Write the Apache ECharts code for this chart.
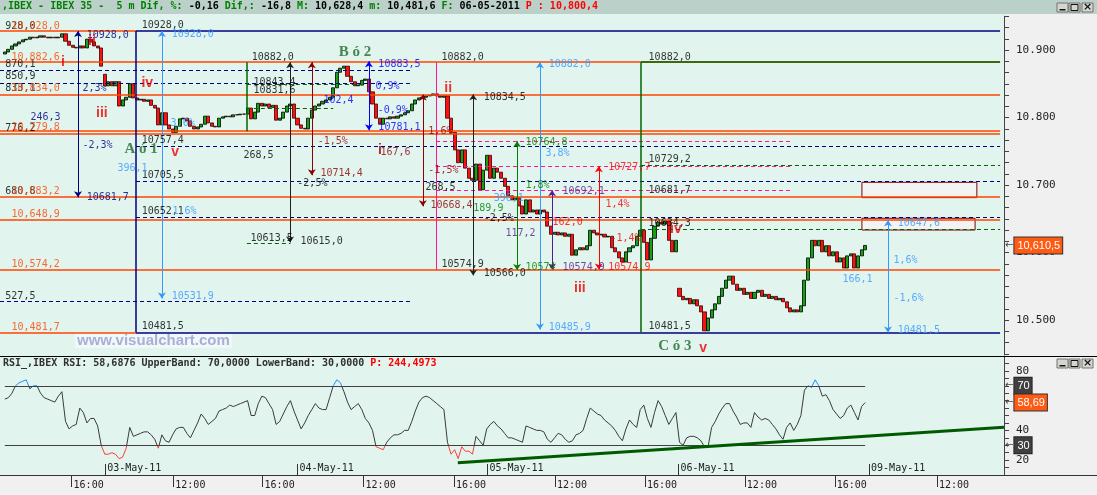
<!DOCTYPE html>
<html>
<head>
<meta charset="utf-8">
<script src="https://cdn.jsdelivr.net/npm/echarts@6.0.0/dist/echarts.min.js"></script>
<style>
html,body{margin:0;padding:0;background:#F0F0F0;overflow:hidden;}
#chart{width:1097px;height:495px;}
</style>
</head>
<body>
<div id="chart"></div>
<script>
// ================= DATA =================
// one candle per bar index; open = previous close except at session gaps
const closes = [
10897,10901,10906,10909,10912,10915,10916,10919,10918,10919,10921,10919,10918,10919,10918,10919,10924,10913,10907,10904,10903,10906,10903,10916,10912,10906,10903,
10876,10847,10853,10847,10853,10817,10826,10830,10850,10829,
10826,10827,10824,10826,10818,10814,10789,10807,10789,10783,
10778,10787,10798,10799,10795,10787,10783,10786,10790,10802,
10792,10787,10786,10799,10801,10802,10801,10804,10804,10805,
10805,10814,10798,10808,10821,10817,10820,10815,10818,10796,
10799,10808,10817,10820,10799,10789,10784,10783,10799,10811,
10817,10820,10824,10826,10830,10844,10867,10873,10876,10861,
10853,10847,10848,10855,10857,10838,10820,10799,10790,10799,
10798,10801,10799,10802,10804,10807,10810,10820,10826,10829,
10830,10832,10833,10835,10832,10830,10832,10799,10778,10752,
10733,10752,10725,10710,10707,10731,10693,10722,10744,10710,
10725,10719,10710,10698,10684,10678,10681,10669,10657,10678,
10660,10663,10657,10663,10660,10639,10627,10630,10626,10629,
10624,10627,10596,10604,10607,10604,10610,10633,10629,10626,
10627,10623,10624,10607,10601,10592,10586,10601,10607,10610,
10624,10633,10615,10589,10621,10639,10645,10642,10647,10618,
10601,10618,10535,10530,10532,10524,10530,10521,10512,10484,
10503,10515,10524,10535,10547,10559,10565,10553,10544,10547,
10538,10541,10532,10541,10544,10535,10538,10532,10535,10530,
10532,10527,10518,10512,10515,10512,10521,10559,10592,10618,
10610,10618,10601,10610,10595,10601,10586,10592,10577,10595,
10598,10577,10595,10604,10610.5
];
const openGaps = { 0: 10894, 28: 10864, 189: 10547 };

const rsiValues = [
61,62,65,70,72,73,74,68,70,70,65,62,61,60,59,63,66,46,41,43,
44,55,52,45,48,48,43,30,24,24,25,24,21,22,28,42,36,37,38,39,
39,37,34,28,37,33,32,37,41,42,42,38,35,40,45,51,48,44,46,48,
53,54,55,57,56,57,58,59,60,50,50,58,63,62,58,54,44,46,51,56,
60,53,47,41,45,50,54,58,55,54,54,62,70,74,72,66,59,54,56,58,
54,48,45,40,29,28,27,32,35,37,37,38,40,40,46,53,59,62,63,62,
60,58,56,54,32,24,27,21,29,26,26,24,36,33,30,41,44,46,43,41,
38,35,35,34,33,32,43,42,41,40,40,39,34,
32,35,38,37,34,32,33,37,38,40,
48,55,53,51,50,47,45,43,40,36,
33,41,47,44,42,54,57,48,42,52,
60,56,50,44,48,52,32,30,35,36,
36,35,33,29,29,42,46,51,55,58,
58,53,49,44,45,45,42,52,49,47,
48,47,44,41,37,34,42,45,40,44,
50,67,70,69,74,70,63,64,60,54,
51,48,50,55,57,52,47,56,58.69
];
const rsiBands = [70, 30];
const rsiTrend = [[126.9, 18.3], [279.9, 42.1]];

const timeTickPos = [18.7, 47.2, 72.2, 100.5, 125.8, 154.1, 179.3, 207.3, 232.5, 261.1];
const timeTickLabels = ['16:00','12:00','16:00','12:00','16:00','12:00','16:00','12:00','16:00','12:00'];
const dateTickPos = [28.1, 82.0, 135.2, 188.7, 242.1];
const dateTickLabels = ['03-May-11','04-May-11','05-May-11','06-May-11','09-May-11'];
const priceTickValues = [10500, 10600, 10700, 10800, 10900];
const priceTickLabels = ['10.500','10.600','10.700','10.800','10.900'];
const rsiTickValues = [20, 40, 60, 80];
const rsiTickLabels = ['20','40','60','80'];

const headerText = [
  ['g', ',IBEX - IBEX 35 -  5 m Dif, %:'], ['k', ' -0,16 '], ['g', 'Dif,:'], ['k', ' -16,8 '],
  ['g', 'M:'], ['k', ' 10,628,4 '], ['g', 'm:'], ['k', ' 10,481,6 '], ['g', 'F:'], ['k', ' 06-05-2011 '],
  ['r', 'P : 10,800,4']
];
const rsiHeaderText = [['k', 'RSI_,IBEX RSI: 58,6876 UpperBand: 70,0000 LowerBand: 30,0000 '], ['r', 'P: 244,4973']];

// ================= ANNOTATIONS (prices / bar indices) =================
const levelsOrange = [[10928,-1.35,36.75],[10882.6,-1.35,278.8],[10834,-1.35,278.8],[10779.8,-1.35,278.8],[10775.4,-1.35,278.8],[10683.2,-1.35,278.8],[10648.9,-1.35,278.8],[10574.2,-1.35,278.8],[10481.7,-1.35,36.75]];
const levelsNavy = [[10928,36.75,278.8],[10481.5,36.75,278.8]];
const levelsNavyDashed = [[10870.1,-1.35,113.5],[10850.9,-1.35,113.5],[10527.5,-1.35,113.5],[10757.4,36.75,278.8],[10705.5,36.75,278.8],[10652.1,36.75,278.8]];
const levelsGreen = [[10882,178.2,278.8]];
const levelsGreenDashed = [[10729.2,178.2,278.8],[10634.3,178.2,278.8],[10613.5,67.8,80],[10849,67.8,100],[10814,67.8,92]];
const levelsPinkDashed = [[10764.8,120.8,220.8],[10727.7,120.8,220.8],[10692.1,120.8,220.8]];
const vertNavy = [[36.75,10928,10481.5]];
const vertGreen = [[178.2,10882,10481.5],[67.8,10882,10779.8]];
const vertPink = [[120.8,10882,10574.2]];
const fibNavy = [[20.5,10928,10681.7]];
const fibLightBlue = [[44,10928,10531.9],[149.9,10882,10485.9],[247.4,10647.6,10481.5]];
const fibBlack = [[79.9,10882,10615],[131.2,10834.5,10566]];
const fibMaroon = [[86,10882,10714.4],[117.1,10834,10668.4]];
const fibBlue = [[102,10883.5,10781.1]];
const fibGreen = [[143.5,10764.8,10574]];
const fibPurple = [[153.3,10692.1,10574.9]];
const fibRed = [[166.4,10727.7,10574.9]];
const channel = [[[49,10953],[279.9,10565]], [[46.3,10778.5],[241.3,10446.5]]];
const targetBoxes = [[[240.1,10704],[272.3,10681.3]], [[240.1,10650.7],[271.8,10633.3]]];

const txtBlack = [[0,10935.5,'928,0'],[0,10879.3,'870,1'],[0,10861.5,'850,9'],[0,10843.7,'833,1'],[0,10784.4,'776,2'],[0,10691.1,'680,8'],[0,10535.5,'527,5'],
 [38.2,10937,'10928,0'],[69,10889.6,'10882,0'],[122.2,10889.6,'10882,0'],[180.2,10889.6,'10882,0'],
 [38.2,10766.7,'10757,4'],[38.2,10714.8,'10705,5'],[38.2,10661.5,'10652,1'],[38.2,10491.1,'10481,5'],
 [66.7,10744.4,'268,5'],[68.7,10621.5,'10613,5'],[82.7,10617,'10615,0'],[81.8,10703,'-2,5%'],
 [69.5,10852.6,'10843,4'],[69.5,10840.8,'10831,6'],
 [134,10830.4,'10834,5'],[134,10569.6,'10566,0'],[134,10651.1,'-2,5%'],[117.7,10697,'268,5'],
 [122.2,10583,'10574,9'],[180.2,10738.5,'10729,2'],[180.2,10692.6,'10681,7'],[180.2,10643.7,'10634,3'],[180.2,10491.1,'10481,5']];
const txtOrange = [[1.74,10935.5,'10,928,0'],[1.74,10889.6,'10,882,6'],[1.74,10843.7,'10,834,0'],[1.74,10785.9,'10,779,8'],[1.74,10691.1,'10,683,2'],[1.74,10657,'10,648,9'],[1.74,10583,'10,574,2'],[1.74,10489.6,'10,481,7']];
const txtNavy = [[22.8,10922.2,'10928,0'],[22.8,10682.2,'10681,7'],[7.06,10800.7,'246,3'],[21.6,10843.7,'2,3%'],[21.6,10759.3,'-2,3%']];
const txtLightBlue = [[46.6,10923.7,'10928,0'],[46.6,10535.5,'10531,9'],[31.4,10725.2,'396,1'],[46.8,10661.5,'1,6%'],[46.3,10791.8,'3,6%'],
 [152.2,10879.3,'10882,0'],[152.2,10489.6,'10485,9'],[151.3,10747.4,'3,8%'],[136.8,10680.7,'396,1'],
 [250,10643.7,'10647,6'],[250,10485.2,'10481,5'],[248.8,10588.9,'1,6%'],[248.8,10532.6,'-1,6%'],[234.5,10560.7,'166,1']];
const txtBlue = [[104.5,10879.3,'10883,5'],[104.5,10786,'10781,1'],[103.7,10846.7,'0,9%'],[104.3,10811.1,'-0,9%'],[89.1,10826,'102,4']];
const txtMaroon = [[88.3,10717.8,'10714,4'],[87.5,10765.2,'-1,5%'],[105.1,10748.9,'167,6'],[119.1,10670.4,'10668,4'],[118.5,10722.2,'-1,5%'],[118.5,10779.9,'1,6%']];
const txtGreen = [[145.7,10763.7,'10764,8'],[145.7,10700,'1,8%'],[131.1,10665.9,'189,9'],[145.7,10578.5,'10574']];
const txtPurple = [[156.1,10691.1,'10692,1'],[140.1,10628.9,'117,2'],[156.1,10577.5,'10574,9']];
const txtRed = [[168.9,10726.7,'10727,7'],[168.1,10671.9,'1,4%'],[169.5,10621.5,'-1,4%'],[168.9,10577.5,'10574,9'],[153.3,10645.2,'162,0']];
const waveRed = [[16.3,10882.2,'i'],[24.4,10913.3,'ii'],[27.2,10806.6,'iii'],[39.9,10851.1,'iv'],[47.7,10748.9,'v'],[124.2,10843.7,'ii'],[161.1,10547.4,'iii'],[188,10634,'iv'],[195.6,10458.5,'v']];
const waveDarkRed = [[105.1,10751.9,'i']];
const waveGreen = [[38.2,10753.3,'A ó 1'],[98.1,10897,'B ó 2'],[187.7,10461.4,'C ó 3']];

// ================= BUILD =================
const MONO = '"DejaVu Sans Mono", monospace';
const X_MIN = -1.35, X_MAX = 279.9;
const P_MIN = 10450, P_MAX = 10950, P_STEP = 100 / 6;
const R_MIN = 10, R_MAX = 90, R_STEP = 5;

function fmtEu(v, dec) {
  const s = v.toFixed(dec);
  let [i, f] = s.split('.');
  i = i.replace(/\B(?=(\d{3})+(?!\d))/g, ',');
  return f ? i + ',' + f : i;
}
function lookup(pos, labels) {
  return function (v) {
    let best = 0;
    for (let k = 1; k < pos.length; k++) if (Math.abs(pos[k] - v) < Math.abs(pos[best] - v)) best = k;
    return labels[best];
  };
}
function exactLabel(values, labels) {
  return function (v) {
    for (let k = 0; k < values.length; k++) if (Math.abs(values[k] - v) < 0.05) return labels[k];
    return '';
  };
}

const candleData = closes.map((c, i) => {
  const o = openGaps[i] !== undefined ? openGaps[i] : closes[i - 1];
  return [i, o, c, Math.min(o, c), Math.max(o, c)];
});
const lastClose = closes[closes.length - 1];
const lastRsi = rsiValues[rsiValues.length - 1];

const hPairs = list => list.map(([p, a, b]) => [{ coord: [a, p] }, { coord: [b, p] }]);
const vPairs = list => list.map(([x, t, b]) => [{ coord: [x, t] }, { coord: [x, b] }]);

function lineGroup(pairs, style, opts) {
  return {
    type: 'line', data: [], xAxisIndex: 0, yAxisIndex: 0, z: 1, silent: true, animation: false,
    markLine: Object.assign({
      silent: true, animation: false, symbol: 'none', label: { show: false },
      lineStyle: style, data: pairs
    }, opts || {})
  };
}
function fibGroup(list, color) {
  return lineGroup(vPairs(list), { color, width: 1, type: 'solid' }, { symbol: ['arrow', 'arrow'], symbolSize: [6, 6] });
}
function textGroup(items, color, extra) {
  return {
    type: 'scatter', xAxisIndex: 0, yAxisIndex: 0, z: 6, silent: true, animation: false, clip: false,
    symbolSize: 1, itemStyle: { color: 'rgba(0,0,0,0)' },
    data: items.map(([x, y, t]) => ({ value: [x, y], name: t })),
    label: Object.assign({
      show: true, position: 'right', distance: 0, formatter: '{b}', color,
      fontFamily: MONO, fontSize: 10
    }, extra || {})
  };
}

const series = [];
series.push({
  type: 'candlestick', xAxisIndex: 0, yAxisIndex: 0, z: 3, animation: false,
  data: candleData, barWidth: 3.6,
  itemStyle: { color: '#16A016', color0: '#FF1010', borderColor: '#000', borderColor0: '#3A0000', borderWidth: 0.8 },
  markLine: {
    silent: true, animation: false, symbol: 'none',
    lineStyle: { color: 'rgba(0,0,0,0)', width: 0 },
    label: {
      show: true, position: 'end', distance: 1,
      formatter: '{a|←}{b|' + fmtEu(lastClose, 1) + '}',
      rich: {
        a: { color: '#444', fontSize: 10, fontFamily: 'DejaVu Sans', padding: [0, 1, 0, 0] },
        b: { color: '#fff', backgroundColor: '#FF5A14', borderColor: '#333', borderWidth: 1, padding: [3, 2, 2, 3], fontSize: 11, fontFamily: '"Liberation Sans", sans-serif' }
      }
    },
    data: [{ yAxis: lastClose }]
  }
});
series.push({
  type: 'line', xAxisIndex: 1, yAxisIndex: 1, z: 3, animation: false, symbol: 'none',
  data: rsiValues.map((v, i) => [i, v]), lineStyle: { width: 1 }
});
const tagRich = {
  a: { color: '#444', fontSize: 10, fontFamily: 'DejaVu Sans', padding: [0, 1, 0, 0] },
  d: { color: '#fff', backgroundColor: '#404040', borderColor: '#222', borderWidth: 1, padding: [3, 2, 2, 3], fontSize: 11, fontFamily: '"Liberation Sans", sans-serif' },
  o: { color: '#fff', backgroundColor: '#FF5A14', borderColor: '#333', borderWidth: 1, padding: [3, 2, 2, 3], fontSize: 11, fontFamily: '"Liberation Sans", sans-serif' }
};
series.push({
  type: 'line', data: [], xAxisIndex: 1, yAxisIndex: 1, z: 2, silent: true, animation: false,
  markLine: {
    silent: true, animation: false, symbol: 'none', label: { show: false },
    lineStyle: { color: '#404040', width: 1, type: 'solid' },
    data: rsiBands.map(b => [{ coord: [0, b] }, { coord: [rsiValues.length - 1, b] }])
      .concat([[{ coord: rsiTrend[0], lineStyle: { color: '#005A00', width: 3 } }, { coord: rsiTrend[1] }]])
  }
});
series.push({
  type: 'line', data: [], xAxisIndex: 1, yAxisIndex: 1, z: 7, silent: true, animation: false,
  markLine: {
    silent: true, animation: false, symbol: 'none',
    lineStyle: { color: 'rgba(0,0,0,0)', width: 0 },
    label: { show: true, position: 'end', distance: 1, rich: tagRich },
    data: [
      { yAxis: rsiBands[0], label: { formatter: '{a|←}{d|' + rsiBands[0] + '}' } },
      { yAxis: rsiBands[1], label: { formatter: '{a|←}{d|' + rsiBands[1] + '}' } },
      { yAxis: lastRsi, label: { formatter: '{a|←}{o|' + fmtEu(lastRsi, 2) + '}' } }
    ]
  }
});

series.push(lineGroup(hPairs(levelsOrange), { color: '#FF4500', width: 1.5, type: 'solid' }));
series.push(lineGroup(hPairs(levelsNavyDashed), { color: '#000080', width: 1, type: [4, 3] }));
series.push(lineGroup(hPairs(levelsGreenDashed), { color: '#006400', width: 1, type: [4, 3] }));
series.push(lineGroup(hPairs(levelsPinkDashed), { color: '#FF1493', width: 1, type: [4, 3] }));
series.push(lineGroup(hPairs(levelsNavy).concat(vPairs(vertNavy)), { color: '#000080', width: 1.5, type: 'solid' }));
series.push(lineGroup(hPairs(levelsGreen).concat(vPairs(vertGreen)), { color: '#006400', width: 1.5, type: 'solid' }));
series.push(lineGroup(vPairs(vertPink), { color: '#FF1493', width: 1, type: 'solid' }));
series.push(fibGroup(fibNavy, '#000080'));
series.push(fibGroup(fibLightBlue, '#3399FF'));
series.push(fibGroup(fibBlack, '#202020'));
series.push(fibGroup(fibMaroon, '#8B0000'));
series.push(fibGroup(fibBlue, '#0000FF'));
series.push(fibGroup(fibGreen, '#008000'));
series.push(fibGroup(fibPurple, '#551A8B'));
series.push(fibGroup(fibRed, '#FF0000'));
const ch = lineGroup(channel.map(([a, b]) => [{ coord: a }, { coord: b }]), { color: '#990000', width: 3, type: 'solid' });
ch.z = 4;
series.push(ch);
series.push({
  type: 'line', data: [], xAxisIndex: 0, yAxisIndex: 0, z: 2, silent: true, animation: false,
  markArea: {
    silent: true, animation: false,
    itemStyle: { color: '#F3F3F3', borderColor: '#800000', borderWidth: 1 },
    data: targetBoxes.map(([a, b]) => [{ coord: a }, { coord: b }])
  }
});
series.push(textGroup(txtBlack, '#000000'));
series.push(textGroup(txtOrange, '#FF4500'));
series.push(textGroup(txtNavy, '#000080'));
series.push(textGroup(txtLightBlue, '#3399FF'));
series.push(textGroup(txtBlue, '#0000FF'));
series.push(textGroup(txtMaroon, '#8B0000'));
series.push(textGroup(txtGreen, '#008000'));
series.push(textGroup(txtPurple, '#551A8B'));
series.push(textGroup(txtRed, '#FF0000'));
series.push(textGroup(waveRed, '#EE0000', { position: 'inside', fontFamily: '"Liberation Sans", sans-serif', fontWeight: 'bold', fontSize: 14 }));
series.push(textGroup(waveDarkRed, '#A00000', { position: 'inside', fontFamily: '"Liberation Sans", sans-serif', fontWeight: 'bold', fontSize: 14 }));
series.push(textGroup(waveGreen, '#1F6A2A', { position: 'inside', fontFamily: '"Liberation Serif", serif', fontWeight: 'bold', fontSize: 15 }));

function richHeader(parts) { return parts.map(([k, t]) => '{' + k + '|' + t + '}').join(''); }
const headRich = {
  g: { color: '#008000', fontFamily: MONO, fontSize: 10 },
  k: { color: '#000000', fontFamily: MONO, fontSize: 10 },
  r: { color: '#FF0000', fontFamily: MONO, fontSize: 10 }
};
const rsiHeadRich = {
  k: { color: '#303030', fontFamily: MONO, fontSize: 10 },
  r: { color: '#FF0000', fontFamily: MONO, fontSize: 10 }
};

function buttons(y) {
  const xs = [1057, 1069, 1082];
  const els = [];
  xs.forEach((x) => {
    els.push({ type: 'rect', shape: { x: x, y: y, width: 11, height: 9 }, style: { fill: '#D6D6D0', stroke: '#707070', lineWidth: 1 }, z: 200 });
  });
  els.push({ type: 'rect', shape: { x: 1059.5, y: y + 6, width: 6, height: 1.5 }, style: { fill: '#111' }, z: 201 });
  els.push({ type: 'rect', shape: { x: 1071, y: y + 1.5, width: 7, height: 6 }, style: { fill: 'none', stroke: '#111', lineWidth: 1 }, z: 201 });
  els.push({ type: 'text', x: 1087.5, y: y + 4.5, style: { text: '×', fill: '#111', font: 'bold 11px "DejaVu Sans"', align: 'center', verticalAlign: 'middle' }, z: 201 });
  return els;
}

const option = {
  backgroundColor: '#F0F0F0',
  animation: false,
  title: [
    { text: richHeader(headerText), left: 2, top: 1, padding: 0, textStyle: { rich: headRich, fontFamily: MONO, fontSize: 10 } },
    { text: richHeader(rsiHeaderText), left: 3, top: 358, padding: 0, textStyle: { rich: rsiHeadRich, fontFamily: MONO, fontSize: 10 } }
  ],
  grid: [
    { left: 0, right: 93, top: 16.25, bottom: 141.25, show: false, containLabel: false, outerBoundsMode: 'none' },
    { left: 0, right: 93, top: 356, bottom: 20, show: false, containLabel: false, outerBoundsMode: 'none' }
  ],
  xAxis: [
    { gridIndex: 0, type: 'value', min: X_MIN, max: X_MAX, show: false, splitLine: { show: false }, axisLine: { onZero: false } },
    {
      gridIndex: 1, type: 'value', min: X_MIN, max: X_MAX, position: 'bottom',
      splitLine: { show: false },
      axisLine: { show: true, onZero: false, lineStyle: { color: '#333', width: 1 } },
      axisTick: { show: true, customValues: timeTickPos, length: 12, lineStyle: { color: '#333' } },
      axisLabel: { show: true, customValues: timeTickPos, formatter: lookup(timeTickPos, timeTickLabels), align: 'left', margin: 5, padding: [0, 0, 0, 2], fontFamily: MONO, fontSize: 10, color: '#222' }
    },
    {
      gridIndex: 1, type: 'value', min: X_MIN, max: X_MAX, position: 'bottom',
      splitLine: { show: false },
      axisLine: { show: false, onZero: false },
      axisTick: { show: true, inside: true, customValues: dateTickPos, length: 11, lineStyle: { color: '#333' } },
      axisLabel: { show: true, inside: true, customValues: dateTickPos, formatter: lookup(dateTickPos, dateTickLabels), align: 'left', verticalAlign: 'bottom', margin: 2, padding: [0, 0, 0, 2], fontFamily: MONO, fontSize: 10, color: '#222' }
    }
  ],
  yAxis: [
    {
      gridIndex: 0, type: 'value', position: 'right', min: P_MIN, max: P_MAX, interval: P_STEP,
      splitLine: { show: false },
      axisLine: { show: true, onZero: false, lineStyle: { color: '#444' } },
      axisTick: { show: true, inside: false, length: 5, lineStyle: { color: '#444' } },
      axisLabel: { show: true, formatter: exactLabel(priceTickValues, priceTickLabels), margin: 12, fontFamily: MONO, fontSize: 11, color: '#222' }
    },
    {
      gridIndex: 1, type: 'value', position: 'right', min: R_MIN, max: R_MAX, interval: R_STEP,
      splitLine: { show: false },
      axisLine: { show: true, onZero: false, lineStyle: { color: '#444' } },
      axisTick: { show: true, inside: false, length: 5, lineStyle: { color: '#444' } },
      axisLabel: { show: true, formatter: exactLabel(rsiTickValues, rsiTickLabels), margin: 12, fontFamily: MONO, fontSize: 11, color: '#222' }
    }
  ],
  visualMap: [{
    type: 'piecewise', show: false, seriesIndex: 1, dimension: 1,
    pieces: [{ lt: 30, color: '#FF3A3A' }, { gte: 30, lte: 70, color: '#3A3A3A' }, { gt: 70, color: '#1E90FF' }]
  }],
  graphic: [
    { type: 'rect', shape: { x: 0, y: 14, width: 1004, height: 342 }, style: { fill: '#E1F4EE' }, z: -100, silent: true },
    { type: 'rect', shape: { x: 0, y: 356, width: 1004, height: 119 }, style: { fill: '#E1F4EE' }, z: -100, silent: true },
    { type: 'rect', shape: { x: 0, y: 0, width: 1097, height: 14 }, style: { fill: '#BCD0CA' }, z: 0 },
    { type: 'line', shape: { x1: 0, y1: 356.5, x2: 1097, y2: 356.5 }, style: { stroke: '#000', lineWidth: 1.2 }, z: 150 },
    { type: 'line', shape: { x1: 1004, y1: 475.5, x2: 1097, y2: 475.5 }, style: { stroke: '#333', lineWidth: 1 }, z: 150 },
    { type: 'text', x: 75, y: 333, style: { text: 'www.visualchart.com', font: 'bold 15px "Liberation Sans", sans-serif', fill: '#A7B0D6', backgroundColor: 'rgba(246,249,252,0.75)', padding: [0, 2] }, z: 5 }
  ].concat(buttons(3)).concat(buttons(359)),
  series: series
};

const chart = echarts.init(document.getElementById('chart'), null, { renderer: 'canvas' });
chart.setOption(option);
</script>
</body>
</html>
